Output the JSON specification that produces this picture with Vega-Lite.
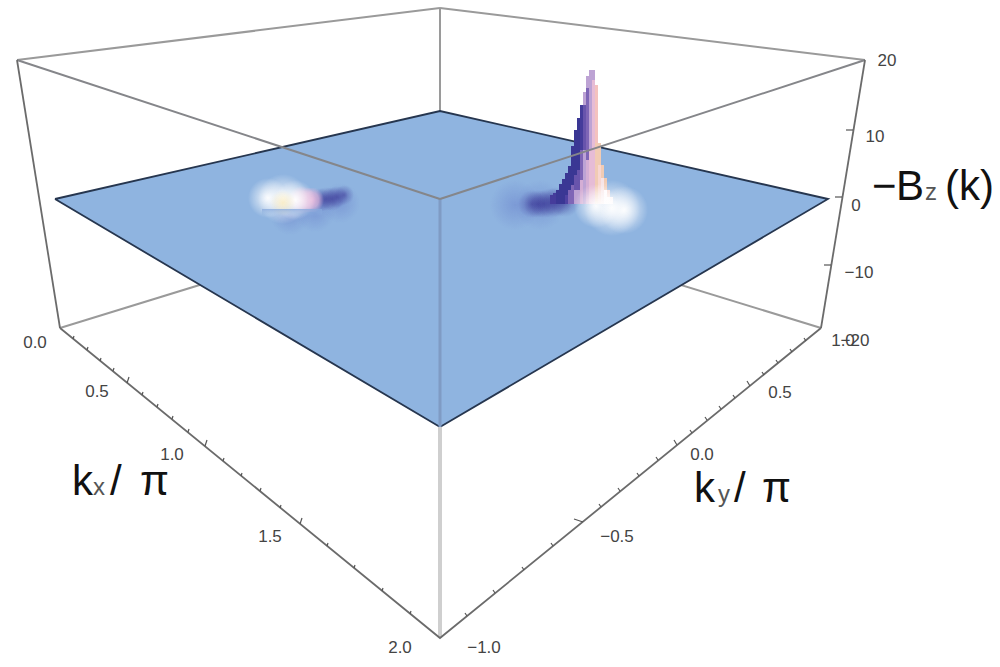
{
"$schema":"https://vega.github.io/schema/vega-lite/v6.json",
"width":1000,"height":667,"padding":0,
"autosize":{"type":"fit","contains":"padding"},
"background":"#ffffff",
"config":{"view":{"stroke":null}},
"datasets":{
"backEdges":[
{"edge":"topL","seq":0,"px":17,"py":60},{"edge":"topL","seq":1,"px":440,"py":8},
{"edge":"topR","seq":0,"px":440,"py":8},{"edge":"topR","seq":1,"px":865,"py":60},
{"edge":"backV","seq":0,"px":440,"py":8},{"edge":"backV","seq":1,"px":440,"py":211},
{"edge":"botL","seq":0,"px":60,"py":328},{"edge":"botL","seq":1,"px":440,"py":211},
{"edge":"botR","seq":0,"px":440,"py":211},{"edge":"botR","seq":1,"px":821,"py":328}
],
"surface":[
{"px":55,"py":199,"py2":199},{"px":440,"py":111,"py2":427},{"px":828,"py":199,"py2":199}
],
"surfaceEdges":[
{"seq":0,"px":55,"py":199},{"seq":1,"px":440,"py":111},{"seq":2,"px":828,"py":199},{"seq":3,"px":440,"py":427},{"seq":4,"px":55,"py":199}
],
"shadeBlobs":[
{"px":490,"px2":540,"py":180,"py2":230},{"px":515,"px2":565,"py":180,"py2":230},
{"px":270,"px2":310,"py":195,"py2":235},{"px":295,"px2":335,"py":192,"py2":232},{"px":320,"px2":360,"py":183,"py2":223}
],
"purpleBlobs":[
{"px":518,"px2":546,"py":190,"py2":218},{"px":524,"px2":552,"py":190,"py2":218},{"px":530,"px2":558,"py":190,"py2":218},{"px":536,"px2":566,"py":188,"py2":218},{"px":542,"px2":572,"py":187,"py2":217},{"px":550,"px2":580,"py":187,"py2":217},
{"px":308,"px2":332,"py":188,"py2":212},{"px":314,"px2":338,"py":187,"py2":211},{"px":320,"px2":344,"py":187,"py2":211},{"px":326,"px2":348,"py":186,"py2":208},{"px":334,"px2":354,"py":185,"py2":205}
],
"pinkBlobs":[
{"px":288,"px2":316,"py":186,"py2":214},{"px":298,"px2":324,"py":188,"py2":212}
],
"whiteBlobs":[
{"px":574,"px2":618,"py":184,"py2":228},{"px":584,"px2":640,"py":180,"py2":236},{"px":600,"px2":648,"py":186,"py2":234},
{"px":248,"px2":288,"py":178,"py2":218},{"px":258,"px2":308,"py":174,"py2":224},{"px":275,"px2":315,"py":180,"py2":220}
],
"yellowBlobs":[
{"px":270,"px2":296,"py":190,"py2":216}
],
"bumpEdge":[{"px":262,"px2":322,"py":209,"py2":216}],
"peak":[
{"px":550,"px2":553,"py":195,"py2":204,"tone":0.5},
{"px":553,"px2":556,"py":193,"py2":204,"tone":0.5},
{"px":556,"px2":559,"py":190,"py2":204,"tone":0},
{"px":559,"px2":562,"py":184,"py2":204,"tone":0},
{"px":562,"px2":565,"py":179,"py2":204,"tone":0},
{"px":565,"px2":568,"py":173,"py2":195,"tone":0},
{"px":565,"px2":568,"py":195,"py2":204,"tone":1},
{"px":568,"px2":571,"py":166,"py2":190,"tone":0},
{"px":568,"px2":571,"py":190,"py2":204,"tone":2},
{"px":571,"px2":574,"py":146,"py2":185,"tone":0},
{"px":571,"px2":574,"py":185,"py2":204,"tone":2},
{"px":574,"px2":577,"py":130,"py2":175,"tone":0},
{"px":574,"px2":577,"py":175,"py2":190,"tone":1.5},
{"px":574,"px2":577,"py":190,"py2":204,"tone":3},
{"px":577,"px2":580,"py":118,"py2":170,"tone":0},
{"px":577,"px2":580,"py":170,"py2":190,"tone":1.5},
{"px":577,"px2":580,"py":190,"py2":204,"tone":3},
{"px":580,"px2":583,"py":105,"py2":150,"tone":0.5},
{"px":580,"px2":583,"py":150,"py2":180,"tone":2},
{"px":580,"px2":583,"py":180,"py2":204,"tone":3.5},
{"px":583,"px2":586,"py":92,"py2":105,"tone":3},
{"px":583,"px2":586,"py":105,"py2":150,"tone":1.5},
{"px":583,"px2":586,"py":150,"py2":204,"tone":3},
{"px":586,"px2":589,"py":76,"py2":88,"tone":3},
{"px":586,"px2":589,"py":88,"py2":160,"tone":2},
{"px":586,"px2":589,"py":160,"py2":204,"tone":3.5},
{"px":589,"px2":592,"py":70,"py2":150,"tone":3},
{"px":589,"px2":592,"py":150,"py2":204,"tone":4},
{"px":592,"px2":595,"py":70,"py2":80,"tone":3},
{"px":592,"px2":595,"py":80,"py2":204,"tone":4},
{"px":595,"px2":598,"py":85,"py2":143,"tone":4.6},
{"px":595,"px2":598,"py":143,"py2":204,"tone":5},
{"px":598,"px2":601,"py":143,"py2":165,"tone":5},
{"px":598,"px2":601,"py":165,"py2":204,"tone":5.5},
{"px":601,"px2":604,"py":165,"py2":178,"tone":5},
{"px":601,"px2":604,"py":178,"py2":204,"tone":6},
{"px":604,"px2":607,"py":178,"py2":190,"tone":5},
{"px":604,"px2":607,"py":190,"py2":204,"tone":7},
{"px":607,"px2":610,"py":190,"py2":197,"tone":5.5},
{"px":607,"px2":610,"py":197,"py2":204,"tone":7},
{"px":610,"px2":613,"py":197,"py2":204,"tone":6.5}
],
"frontEdges":[
{"edge":"topFL","seq":0,"px":17,"py":60},{"edge":"topFL","seq":1,"px":440,"py":199},
{"edge":"topFR","seq":0,"px":440,"py":199},{"edge":"topFR","seq":1,"px":865,"py":60}
],
"bottomEdges":[
{"edge":"bot","seq":0,"px":60,"py":328},{"edge":"bot","seq":1,"px":440,"py":638},{"edge":"bot","seq":2,"px":821,"py":328},
{"edge":"vR","seq":0,"px":865,"py":60},{"edge":"vR","seq":1,"px":821,"py":328},
{"edge":"vL","seq":0,"px":17,"py":60},{"edge":"vL","seq":1,"px":60,"py":328}
],
"frontVertical":[{"seq":0,"px":440,"py":427},{"seq":1,"px":440,"py":638}],
"frontVerticalOnSurface":[{"seq":0,"px":440,"py":199},{"seq":1,"px":440,"py":427}],
"ticks":[
{"px":127,"py":383,"px2":129,"py2":377},{"px":205,"py":446,"px2":207,"py2":440},{"px":300,"py":524,"px2":302,"py2":518},
{"px":73,"py":339,"px2":74,"py2":336},{"px":87,"py":350,"px2":88,"py2":347},{"px":100,"py":361,"px2":101,"py2":358},{"px":113,"py":371,"px2":114,"py2":368},
{"px":142,"py":395,"px2":143,"py2":392},{"px":157,"py":407,"px2":158,"py2":404},{"px":172,"py":419,"px2":173,"py2":416},{"px":188,"py":432,"px2":189,"py2":429},
{"px":223,"py":461,"px2":224,"py2":458},{"px":241,"py":476,"px2":242,"py2":473},{"px":260,"py":491,"px2":261,"py2":488},{"px":280,"py":508,"px2":281,"py2":505},
{"px":327,"py":546,"px2":328,"py2":543},{"px":354,"py":568,"px2":355,"py2":565},{"px":382,"py":591,"px2":383,"py2":588},{"px":410,"py":614,"px2":411,"py2":611},
{"px":583,"py":522,"px2":574,"py2":519},{"px":677,"py":445,"px2":674,"py2":440},{"px":750,"py":386,"px2":747,"py2":381},
{"px":467,"py":616,"px2":465,"py2":613},{"px":495,"py":593,"px2":493,"py2":590},{"px":524,"py":570,"px2":522,"py2":567},{"px":553,"py":546,"px2":551,"py2":543},
{"px":601,"py":507,"px2":599,"py2":504},{"px":620,"py":491,"px2":618,"py2":488},{"px":639,"py":476,"px2":637,"py2":473},{"px":658,"py":460,"px2":656,"py2":457},
{"px":692,"py":433,"px2":690,"py2":430},{"px":707,"py":420,"px2":705,"py2":417},{"px":721,"py":409,"px2":719,"py2":406},{"px":735,"py":398,"px2":733,"py2":395},
{"px":764,"py":375,"px2":762,"py2":372},{"px":778,"py":363,"px2":776,"py2":360},{"px":792,"py":352,"px2":790,"py2":349},{"px":806,"py":341,"px2":804,"py2":338},
{"px":853,"py":130,"px2":846,"py2":130},{"px":842,"py":197,"px2":835,"py2":197},{"px":831,"py":265,"px2":824,"py2":265}
],
"tickLabels":[
{"label":"0.0","px":35,"py":343},{"label":"0.5","px":97,"py":392},{"label":"1.0","px":172,"py":455},{"label":"1.5","px":270,"py":537},{"label":"2.0","px":400,"py":648},
{"label":"−1.0","px":484,"py":648},{"label":"−0.5","px":617,"py":537},{"label":"0.0","px":702,"py":455},{"label":"0.5","px":780,"py":393},{"label":"1.0","px":843,"py":341},
{"label":"−20","px":855,"py":341},{"label":"−10","px":859,"py":273},{"label":"0","px":856,"py":206},{"label":"10","px":875,"py":137},{"label":"20","px":887,"py":61}
],
"titleLarge":[
{"label":"k","px":72,"py":495},{"label":"/","px":110,"py":495},{"label":"π","px":140,"py":495},
{"label":"k","px":694,"py":502},{"label":"/","px":734,"py":502},{"label":"π","px":762,"py":502},
{"label":"−","px":872,"py":200},{"label":"B","px":896,"py":200},{"label":"(k)","px":945,"py":200}
],
"titleSmall":[
{"label":"x","px":93,"py":495},{"label":"y","px":718,"py":502},{"label":"z","px":925,"py":200}
]
},
"encoding":{
"x":{"field":"px","type":"quantitative","scale":{"domain":[0,1000],"nice":false,"zero":false},"axis":null},
"y":{"field":"py","type":"quantitative","scale":{"domain":[667,0],"nice":false,"zero":false},"axis":null}
},
"layer":[
{"data":{"name":"backEdges"},"mark":{"type":"line","color":"#9a9a9a","strokeWidth":2},"encoding":{"detail":{"field":"edge"},"order":{"field":"seq"}}},
{"data":{"name":"surface"},"mark":{"type":"area","color":"#8fb4e0","opacity":1},"encoding":{"y2":{"field":"py2"}}},
{"data":{"name":"surfaceEdges"},"mark":{"type":"line","color":"#26364f","strokeWidth":1.8},"encoding":{"order":{"field":"seq"}}},
{"data":{"name":"shadeBlobs"},"mark":{"type":"rect","fill":{"gradient":"radial","x1":0.5,"y1":0.5,"r1":0,"x2":0.5,"y2":0.5,"r2":0.5,"stops":[{"offset":0,"color":"rgba(80,95,190,0.3)"},{"offset":1,"color":"rgba(80,95,190,0)"}]}},"encoding":{"x2":{"field":"px2"},"y2":{"field":"py2"}}},
{"data":{"name":"purpleBlobs"},"mark":{"type":"rect","fill":{"gradient":"radial","x1":0.5,"y1":0.5,"r1":0,"x2":0.5,"y2":0.5,"r2":0.5,"stops":[{"offset":0,"color":"rgba(58,55,150,0.55)"},{"offset":0.4,"color":"rgba(58,55,150,0.3)"},{"offset":1,"color":"rgba(58,55,150,0)"}]}},"encoding":{"x2":{"field":"px2"},"y2":{"field":"py2"}}},
{"data":{"name":"peak"},"mark":{"type":"rect"},"encoding":{"x2":{"field":"px2"},"y2":{"field":"py2"},"color":{"field":"tone","type":"quantitative","legend":null,"scale":{"domain":[0,1,2,3,4,5,6,7],"range":["#3a3794","#4f42a2","#7f66b6","#bda3d4","#e6bcd6","#f1cbb4","#f7e4e6","#ffffff"]}}}},
{"data":{"name":"pinkBlobs"},"mark":{"type":"rect","fill":{"gradient":"radial","x1":0.5,"y1":0.5,"r1":0,"x2":0.5,"y2":0.5,"r2":0.5,"stops":[{"offset":0,"color":"rgba(230,185,220,1)"},{"offset":0.6,"color":"rgba(225,185,220,0.7)"},{"offset":1,"color":"rgba(220,180,220,0)"}]}},"encoding":{"x2":{"field":"px2"},"y2":{"field":"py2"}}},
{"data":{"name":"whiteBlobs"},"mark":{"type":"rect","fill":{"gradient":"radial","x1":0.5,"y1":0.5,"r1":0,"x2":0.5,"y2":0.5,"r2":0.5,"stops":[{"offset":0,"color":"rgba(255,255,255,0.95)"},{"offset":0.35,"color":"rgba(255,255,255,0.6)"},{"offset":1,"color":"rgba(255,255,255,0)"}]}},"encoding":{"x2":{"field":"px2"},"y2":{"field":"py2"}}},
{"data":{"name":"yellowBlobs"},"mark":{"type":"rect","fill":{"gradient":"radial","x1":0.5,"y1":0.5,"r1":0,"x2":0.5,"y2":0.5,"r2":0.5,"stops":[{"offset":0,"color":"rgba(250,235,190,0.8)"},{"offset":1,"color":"rgba(250,235,190,0)"}]}},"encoding":{"x2":{"field":"px2"},"y2":{"field":"py2"}}},
{"data":{"name":"bumpEdge"},"mark":{"type":"rect","fill":{"gradient":"linear","x1":0,"y1":0,"x2":0,"y2":1,"stops":[{"offset":0,"color":"rgba(135,168,220,0.8)"},{"offset":1,"color":"rgba(143,180,224,0)"}]}},"encoding":{"x2":{"field":"px2"},"y2":{"field":"py2"}}},
{"data":{"name":"frontVerticalOnSurface"},"mark":{"type":"line","color":"#7f9bc4","strokeWidth":3},"encoding":{"order":{"field":"seq"}}},
{"data":{"name":"frontEdges"},"mark":{"type":"line","color":"#85868a","strokeWidth":2},"encoding":{"detail":{"field":"edge"},"order":{"field":"seq"}}},
{"data":{"name":"frontVertical"},"mark":{"type":"line","color":"#cfcfcf","strokeWidth":4},"encoding":{"order":{"field":"seq"}}},
{"data":{"name":"bottomEdges"},"mark":{"type":"line","color":"#6b6b6b","strokeWidth":1.8},"encoding":{"detail":{"field":"edge"},"order":{"field":"seq"}}},
{"data":{"name":"ticks"},"mark":{"type":"rule","color":"#555555","strokeWidth":1.2},"encoding":{"x2":{"field":"px2"},"y2":{"field":"py2"}}},
{"data":{"name":"tickLabels"},"mark":{"type":"text","font":"Liberation Sans","fontSize":17,"color":"#444444","align":"center","baseline":"middle"},"encoding":{"text":{"field":"label"}}},
{"data":{"name":"titleLarge"},"mark":{"type":"text","font":"Liberation Sans","fontSize":42,"color":"#111111","align":"left","baseline":"alphabetic"},"encoding":{"text":{"field":"label"}}},
{"data":{"name":"titleSmall"},"mark":{"type":"text","font":"Liberation Sans","fontSize":24,"color":"#555555","align":"left","baseline":"alphabetic"},"encoding":{"text":{"field":"label"}}}
]
}
